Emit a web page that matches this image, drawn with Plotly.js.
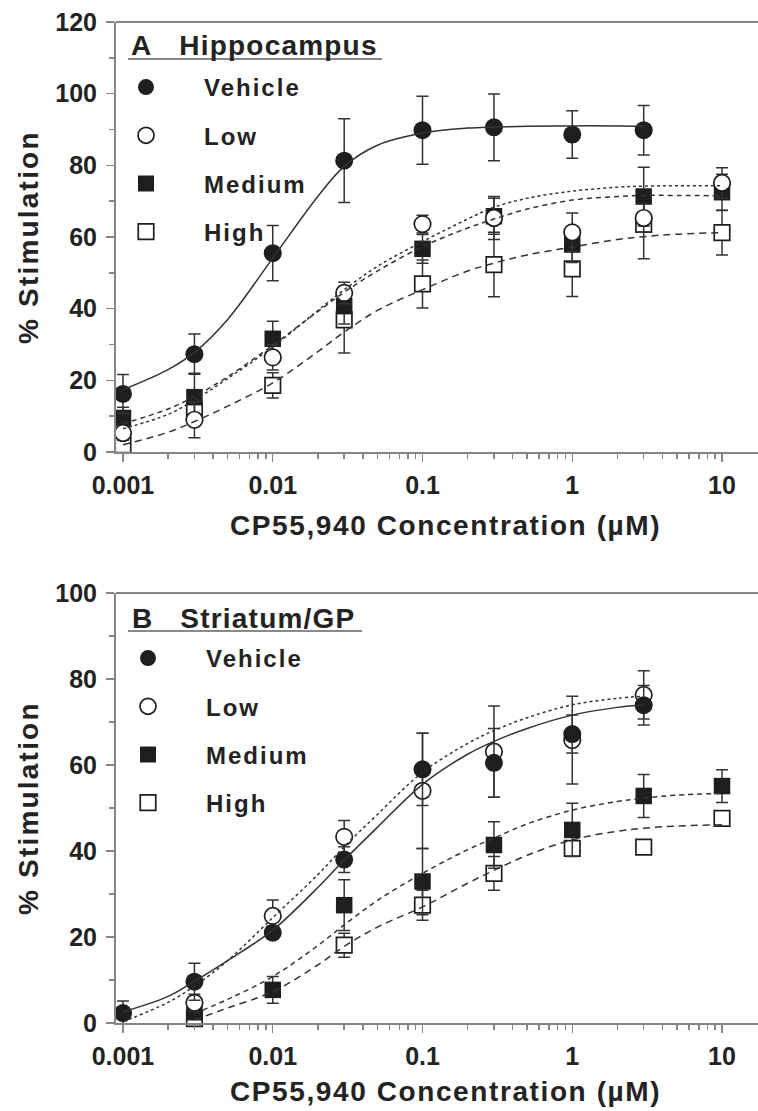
<!DOCTYPE html>
<html>
<head>
<meta charset="utf-8">
<script src="https://cdn.plot.ly/plotly-3.0.1.min.js"></script>
<style>html,body{margin:0;padding:0;background:#fff;}</style>
</head>
<body>
<div id="chart" style="width:758px;height:1111px;"></div>
<script>
// ---------- data ----------
const seriesNames = ['Vehicle', 'Low', 'Medium', 'High'];
const xTickVals = [0.001, 0.01, 0.1, 1, 10];
const xTickText = ['0.001', '0.01', '0.1', '1', '10'];
const xMinorVals = [0.002,0.003,0.004,0.005,0.006,0.007,0.008,0.009,
                    0.02,0.03,0.04,0.05,0.06,0.07,0.08,0.09,
                    0.2,0.3,0.4,0.5,0.6,0.7,0.8,0.9,
                    2,3,4,5,6,7,8,9];

// Panel A: Hippocampus
const aVehX = [0.001, 0.003, 0.01, 0.03, 0.1, 0.3, 1, 3];
const aVehY = [16.2, 27.3, 55.5, 81.3, 89.8, 90.6, 88.6, 89.8];
const aVehE = [5.4, 5.6, 7.7, 11.7, 9.5, 9.3, 6.6, 6.9];
const aLowX = [0.001, 0.003, 0.01, 0.03, 0.1, 0.3, 1, 3, 10];
const aLowY = [5.3, 9.0, 26.4, 44.4, 63.6, 65.3, 61.3, 65.3, 75.1];
const aLowE = [2, 5, 3.5, 3, 2.5, 6, 5.4, 4, 4.2];
const aMedX = [0.001, 0.003, 0.01, 0.03, 0.1, 0.3, 1, 3, 10];
const aMedY = [9.5, 15.3, 31.6, 40.7, 56.7, 65.8, 57.9, 71.3, 72.5];
const aMedE = [3, 6.7, 4.9, 5, 4, 5, 5, 8.2, 5];
const aHighX = [0.001, 0.003, 0.01, 0.03, 0.1, 0.3, 1, 3, 10];
const aHighY = [2.0, 11.5, 18.6, 36.9, 46.9, 52.3, 51.1, 63.5, 61.2];
const aHighE = [2, 3, 3.5, 9.3, 6.7, 9, 7.7, 9.6, 6.2];

// fitted curves, panel A
const aVehFitX = [0.001,0.002,0.003,0.005,0.01,0.02,0.03,0.05,0.1,0.2,0.3,0.5,1,2,3];
const aVehFitY = [17.4,23.0,27.8,37.0,54.1,71.3,79.7,85.6,89.0,90.4,90.7,90.9,91.0,91.0,90.9];
const aFitX = [0.001,0.002,0.003,0.005,0.01,0.02,0.03,0.05,0.1,0.2,0.3,0.5,1,2,3,5,10];
const aLowFitY = [6.5,10.5,14.5,20.5,29.3,39.5,45.3,51.8,58.7,65.0,68.3,70.8,72.8,73.9,74.2,74.3,74.3];
const aMedFitY = [7.9,12.0,15.5,21.0,29.8,39.2,44.6,50.5,57.3,62.5,65.0,67.8,70.3,71.3,71.6,71.6,71.5];
const aHighFitY = [2.0,5.5,8.5,12.8,19.3,28.0,33.5,39.5,45.3,50.5,52.7,55.0,57.2,59.3,60.1,60.8,61.2];

// Panel B: Striatum/GP
const bVehX = [0.001, 0.003, 0.01, 0.03, 0.1, 0.3, 1, 3];
const bVehY = [2.3, 9.6, 21.0, 38.0, 59.0, 60.5, 67.2, 73.9];
const bVehE = [2.8, 4.3, 1.5, 3, 8.4, 8, 4.4, 4.6];
const bLowX = [0.003, 0.01, 0.03, 0.1, 0.3, 1, 3];
const bLowY = [4.7, 24.9, 43.3, 54.0, 63.1, 65.8, 76.3];
const bLowE = [2, 3.7, 3.8, 13.4, 10.6, 10.2, 5.6];
const bMedX = [0.003, 0.01, 0.03, 0.1, 0.3, 1, 3, 10];
const bMedY = [2.5, 7.7, 27.4, 32.9, 41.4, 44.9, 52.8, 55.1];
const bMedE = [1.5, 3.1, 5.9, 7.7, 5.4, 6.2, 5, 3.8];
const bHighX = [0.003, 0.03, 0.1, 0.3, 1, 3, 10];
const bHighY = [1.0, 18.1, 27.4, 34.8, 40.6, 40.9, 47.6];
const bHighE = [1, 2.8, 3.5, 3.9, 1.5, 1, 1.5];

// fitted curves, panel B
const bFitX = [0.001,0.002,0.003,0.005,0.01,0.02,0.03,0.05,0.1,0.2,0.3,0.5,1,2,3];
const bVehFitY = [2.6,6.2,9.7,14.5,21.6,31.5,37.9,45.5,55.5,62.5,65.5,68.5,71.6,73.4,74.0];
const bLowFitY = [0.3,4.8,8.6,14.5,24.5,34.5,41.0,48.5,58.3,65.0,68.0,71.0,74.0,75.5,76.0];
const bLowerFitX = [0.003,0.005,0.01,0.02,0.03,0.05,0.1,0.2,0.3,0.5,1,2,3,5,10];
const bMedFitY = [2.2,5.5,10.8,18.0,22.8,28.5,34.8,40.3,43.0,46.3,49.5,51.5,52.3,53.0,53.4];
const bHighFitY = [0.7,3.5,7.3,13.5,17.8,22.3,27.0,32.5,35.5,39.0,42.6,44.6,45.3,45.8,46.1];

// ---------- styling ----------
const FONT = 'Liberation Sans, Arial, Helvetica, sans-serif';
const INK = '#1e1e1e';
const TXT = '#232323';
const AX = '#858585';
const sp = (t, ls) => '<span style="letter-spacing:' + ls + 'px">' + t + '</span>';

const markerStyles = {
  Vehicle: {symbol: 'circle', size: 18, color: INK, line: {width: 0}},
  Low:     {symbol: 'circle', size: 16.5, color: '#ffffff', line: {color: INK, width: 1.7}},
  Medium:  {symbol: 'square', size: 16.5, color: INK, line: {width: 0}},
  High:    {symbol: 'square', size: 15.5, color: '#ffffff', line: {color: INK, width: 1.7}}
};
const dashes = {Vehicle: 'solid', Low: '3px,3px', Medium: '5px,4px', High: '7px,5px'};

function pointTrace(name, xs, ys, es, xa, ya, leg) {
  return {
    type: 'scatter', mode: 'markers', name: sp(name, 2), x: xs, y: ys,
    xaxis: xa, yaxis: ya, legend: leg, legendgroup: leg + name,
    legendrank: seriesNames.indexOf(name) + 1,
    cliponaxis: false, hoverinfo: 'skip',
    marker: markerStyles[name],
    error_y: {type: 'data', array: es, visible: true, color: '#333', thickness: 1.5, width: 6}
  };
}
function fitTrace(name, xs, ys, xa, ya) {
  return {
    type: 'scatter', mode: 'lines', x: xs, y: ys, xaxis: xa, yaxis: ya,
    showlegend: false, hoverinfo: 'skip',
    line: {color: '#333', width: 1.5, dash: dashes[name], shape: 'spline', smoothing: 1}
  };
}

const data = [
  pointTrace('High', aHighX, aHighY, aHighE, 'x', 'y', 'legend'),
  pointTrace('Medium', aMedX, aMedY, aMedE, 'x', 'y', 'legend'),
  pointTrace('Low', aLowX, aLowY, aLowE, 'x', 'y', 'legend'),
  pointTrace('Vehicle', aVehX, aVehY, aVehE, 'x', 'y', 'legend'),
  fitTrace('Vehicle', aVehFitX, aVehFitY, 'x', 'y'),
  fitTrace('Low', aFitX, aLowFitY, 'x', 'y'),
  fitTrace('Medium', aFitX, aMedFitY, 'x', 'y'),
  fitTrace('High', aFitX, aHighFitY, 'x', 'y'),

  pointTrace('High', bHighX, bHighY, bHighE, 'x2', 'y2', 'legend2'),
  pointTrace('Medium', bMedX, bMedY, bMedE, 'x2', 'y2', 'legend2'),
  pointTrace('Low', bLowX, bLowY, bLowE, 'x2', 'y2', 'legend2'),
  pointTrace('Vehicle', bVehX, bVehY, bVehE, 'x2', 'y2', 'legend2'),
  fitTrace('Vehicle', bFitX, bVehFitY, 'x2', 'y2'),
  fitTrace('Low', bFitX, bLowFitY, 'x2', 'y2'),
  fitTrace('Medium', bLowerFitX, bMedFitY, 'x2', 'y2'),
  fitTrace('High', bLowerFitX, bHighFitY, 'x2', 'y2')
];

const W = 758, H = 1111, L = 116;
const px = v => (v - L) / (W - L);      // pixel x -> paper
const py = v => 1 - v / H;              // pixel y -> paper

const tickFont = {family: FONT, size: 25, color: TXT, weight: 'bold'};
function xAxis(anchor) {
  return {
    type: 'log', range: [-3.0467, 1.2404], anchor: anchor,
    tickmode: 'array', tickvals: xTickVals, ticktext: xTickText,
    ticks: 'outside', ticklen: 8, tickwidth: 1.5, tickcolor: AX,
    minor: {tickmode: 'array', tickvals: xMinorVals, ticks: 'outside', ticklen: 5, tickwidth: 1.5, tickcolor: AX},
    showline: true, linecolor: AX, linewidth: 2, showgrid: false, zeroline: false,
    tickfont: tickFont, ticklabelstandoff: 2, fixedrange: true
  };
}
function yAxis(anchor, top, dom) {
  return {
    range: [0, top], domain: dom, anchor: anchor, dtick: 20, tick0: 0,
    ticks: 'outside', ticklen: 8, tickwidth: 1.5, tickcolor: AX,
    minor: {dtick: 10, ticks: 'outside', ticklen: 5, tickwidth: 1.5, tickcolor: AX},
    showline: true, linecolor: AX, linewidth: 2, showgrid: false, zeroline: false,
    tickfont: tickFont, ticklabelstandoff: 4, fixedrange: true
  };
}
const legendBase = {
  xanchor: 'left', yanchor: 'top', bgcolor: 'rgba(0,0,0,0)', borderwidth: 0,
  itemwidth: 106, tracegroupgap: 14, traceorder: 'grouped',
  font: {family: FONT, size: 24, color: TXT, weight: 'bold'},
  itemclick: false, itemdoubleclick: false
};
const titleFont = {family: FONT, size: 28, color: TXT, weight: 'bold'};
const axTitleFont = {family: FONT, size: 28, color: TXT, weight: 'bold'};

const layout = {
  width: W, height: H, autosize: false,
  margin: {l: L, r: 0, t: 0, b: 0, pad: 0},
  paper_bgcolor: '#fff', plot_bgcolor: '#fff',
  showlegend: true,
  xaxis: xAxis('y'),
  yaxis: yAxis('x', 120, [py(452), py(22)]),
  xaxis2: xAxis('y2'),
  yaxis2: yAxis('x2', 100, [py(1023), py(593)]),
  legend: Object.assign({}, legendBase, {x: px(88), y: py(65)}),
  legend2: Object.assign({}, legendBase, {x: px(90), y: py(636)}),
  shapes: [
    {type: 'line', xref: 'paper', yref: 'paper', x0: 0, x1: 1, y0: py(22), y1: py(22), line: {color: AX, width: 2}},
    {type: 'line', xref: 'paper', yref: 'paper', x0: 0, x1: 1, y0: py(593), y1: py(593), line: {color: AX, width: 2}},
    {type: 'line', xref: 'paper', yref: 'paper', x0: px(128), x1: px(382), y0: py(59), y1: py(59), line: {color: '#8a8a8a', width: 2}},
    {type: 'line', xref: 'paper', yref: 'paper', x0: px(128), x1: px(362), y0: py(631), y1: py(631), line: {color: '#8a8a8a', width: 2}}
  ],
  annotations: [
    {xref: 'paper', yref: 'paper', x: px(129), y: py(46), xanchor: 'left', yanchor: 'middle', showarrow: false,
     text: sp('A\u00a0\u00a0\u00a0Hippocampus', 1.2), font: titleFont},
    {xref: 'paper', yref: 'paper', x: px(130), y: py(618), xanchor: 'left', yanchor: 'middle', showarrow: false,
     text: sp('B\u00a0\u00a0\u00a0Striatum/GP', 1.2), font: titleFont},
    {xref: 'paper', yref: 'paper', x: px(446), y: py(525), xanchor: 'center', yanchor: 'middle', showarrow: false,
     text: sp('CP55,940 Concentration (µM)', 1.6), font: axTitleFont},
    {xref: 'paper', yref: 'paper', x: px(446), y: py(1091), xanchor: 'center', yanchor: 'middle', showarrow: false,
     text: sp('CP55,940 Concentration (µM)', 1.6), font: axTitleFont},
    {xref: 'paper', yref: 'paper', x: px(28), y: py(237), xanchor: 'center', yanchor: 'middle', showarrow: false,
     textangle: -90, text: sp('% Stimulation', 2.2), font: axTitleFont},
    {xref: 'paper', yref: 'paper', x: px(28), y: py(808), xanchor: 'center', yanchor: 'middle', showarrow: false,
     textangle: -90, text: sp('% Stimulation', 2.2), font: axTitleFont}
  ]
};

Plotly.newPlot('chart', data, layout, {staticPlot: true, displayModeBar: false});
</script>
</body>
</html>
